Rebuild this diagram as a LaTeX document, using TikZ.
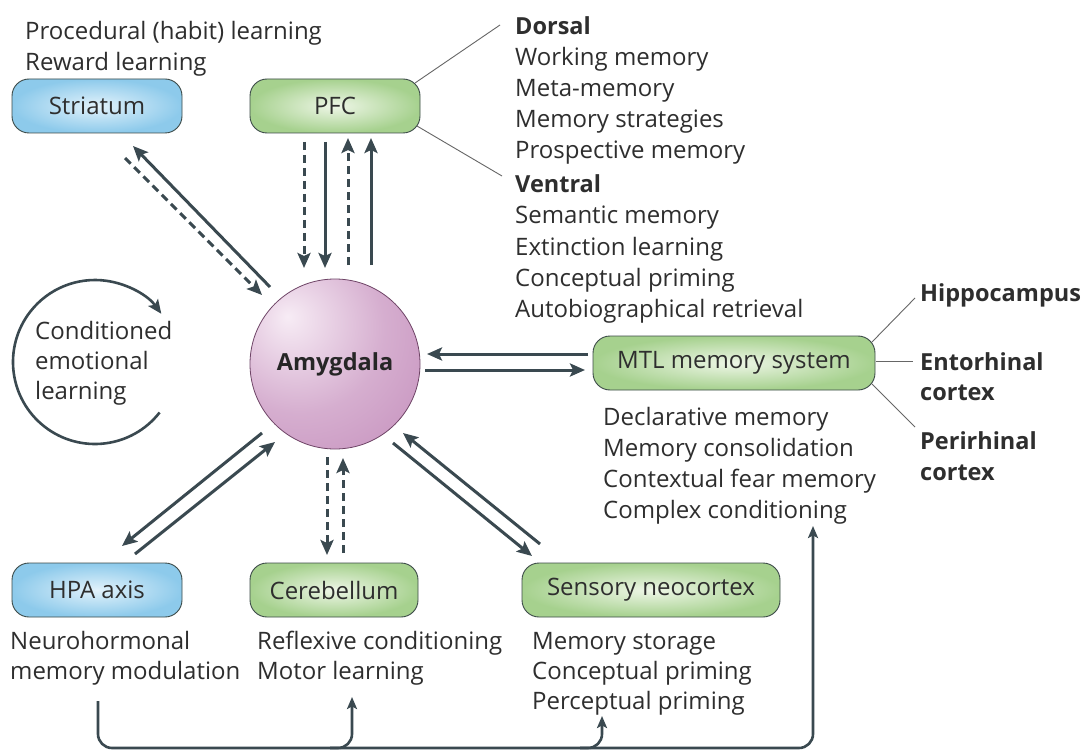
\documentclass[tikz,border=0pt]{standalone}
\usepackage{fontspec}
\setmainfont{Open Sans}
\usetikzlibrary{arrows.meta}
\definecolor{arr}{HTML}{3A4950}
\definecolor{txt}{HTML}{2E2E2E}
\definecolor{blueL}{HTML}{E2F2FB}
\definecolor{blueD}{HTML}{8DCAEB}
\definecolor{greenL}{HTML}{EEF6E7}
\definecolor{greenD}{HTML}{A6D18E}
\definecolor{amyL}{HTML}{F7ECF5}
\definecolor{amyD}{HTML}{BA7BB0}
\definecolor{edge}{HTML}{3C4A48}
\definecolor{amyEdge}{HTML}{6E4466}
\pgfdeclareradialshading{amygshade}{\pgfpoint{-14bp}{14bp}}{color(0bp)=(amyL); color(25bp)=(amyL!45!amyD); color(62bp)=(amyD); color(100bp)=(amyD)}
\begin{document}
\begin{tikzpicture}[x=1pt,y=1pt,
  font=\fontsize{24}{31}\selectfont, text=txt,
  box/.style={rectangle, rounded corners=17pt, draw=edge, line width=0.9pt,
    minimum height=54pt, inner sep=0pt},
  bluebox/.style={box, inner color=blueL, outer color=blueD},
  greenbox/.style={box, inner color=greenL, outer color=greenD},
  lbl/.style={anchor=base west, inner sep=0pt},
  blbl/.style={lbl, font=\fontsize{23.5}{31}\selectfont\bfseries},
  link/.style={draw=arr, line width=3pt, -{Stealth[length=15pt,width=13pt,inset=3pt]}},
  dlink/.style={link, dash pattern=on 8pt off 5pt},
  leader/.style={draw=black!60, line width=0.9pt},
  bus/.style={draw=arr, line width=2.6pt, rounded corners=14pt, -{Stealth[length=12pt,width=10pt,inset=2.5pt]}},
]
\fill[white] (0,0) rectangle (1083,-751);
\useasboundingbox (0,0) rectangle (1083,-751);

% ---- boxes ----
\node[bluebox, minimum width=170pt] (str) at (97,-106) {Striatum};
\node[greenbox, minimum width=170pt] (pfc) at (335,-106) {PFC};
\node[bluebox, minimum width=170pt] (hpa) at (97,-590) {HPA axis};
\node[greenbox, minimum width=168pt] (cer) at (334,-590) {Cerebellum};
\node[greenbox, minimum width=258pt] (sen) at (651,-590) {Sensory neocortex};
\node[greenbox, minimum width=282pt] (mtl) at (734,-363) {MTL memory system};
\node[circle, minimum size=170pt, inner sep=0pt, draw=amyEdge, line width=0.8pt,
      shade, shading=amygshade, font=\fontsize{23.5}{31}\selectfont\bfseries,
      text=black!85] (amy) at (335,-364) {Amygdala};

% ---- text lists ----
\foreach \s/\y [count=\i] in {Procedural (habit) learning/40, Reward learning/71}
  \node[lbl] (strt\i) at (25,-\y) {\s};

\node[blbl] (dors) at (515,-35) {Dorsal};
\foreach \s [count=\i] in {Working memory, Meta-memory, Memory strategies, Prospective memory}
  \node[lbl] (dors\i) at (515,-35-31*\i) {\s};
\node[blbl] (vent) at (515,-193) {Ventral};
\foreach \s [count=\i] in {Semantic memory, Extinction learning, Conceptual priming, Autobiographical retrieval}
  \node[lbl] (vent\i) at (515,-193-31*\i) {\s};

\foreach \s [count=\i] in {Conditioned, emotional, learning}
  \node[lbl] (cel\i) at (35,-309-30*\i) {\s};

\foreach \s [count=\i] in {Declarative memory, Memory consolidation, Contextual fear memory, Complex conditioning}
  \node[lbl] (mtlt\i) at (603,-394-31*\i) {\s};

\node[blbl] (hip) at (920,-301) {Hippocampus};
\node[blbl] (ent1) at (920,-370) {Entorhinal};
\node[blbl] (ent2) at (920,-400) {cortex};
\node[blbl] (per1) at (920,-449) {Perirhinal};
\node[blbl] (per2) at (920,-480) {cortex};

\foreach \s [count=\i] in {Neurohormonal, memory modulation}
  \node[lbl] (hpat\i) at (10,-619-30*\i) {\s};
\foreach \s [count=\i] in {Reflexive conditioning, Motor learning}
  \node[lbl] (cert\i) at (257,-619-30*\i) {\s};
\foreach \s [count=\i] in {Memory storage, Conceptual priming, Perceptual priming}
  \node[lbl] (sent\i) at (532,-619-30*\i) {\s};

% ---- leader lines ----
\coordinate (pd) at (415,-83);  \coordinate (pdE) at (500,-25);
\coordinate (pv) at (417,-126); \coordinate (pvE) at (502,-176);
\draw[leader] (pd) -- (pdE);
\draw[leader] (pv) -- (pvE);
\coordinate (mh) at (872,-342); \coordinate (mhE) at (915,-298);
\coordinate (me) at (876,-361); \coordinate (meE) at (913,-361);
\coordinate (mp) at (872,-384); \coordinate (mpE) at (915,-427);
\draw[leader] (mh) -- (mhE);
\draw[leader] (me) -- (meE);
\draw[leader] (mp) -- (mpE);

% ---- PFC <-> amygdala ----
\coordinate (p1a) at (304,-142); \coordinate (p1b) at (304,-268);
\coordinate (p2a) at (325,-142); \coordinate (p2b) at (325,-268);
\coordinate (p3a) at (348,-265); \coordinate (p3b) at (348,-138);
\coordinate (p4a) at (371,-265); \coordinate (p4b) at (371,-138);
\draw[dlink] (p1a) -- (p1b);
\draw[link]  (p2a) -- (p2b);
\draw[dlink] (p3a) -- (p3b);
\draw[link]  (p4a) -- (p4b);

% ---- Striatum <-> amygdala ----
\coordinate (s1a) at (270,-287); \coordinate (s1b) at (133,-146);
\coordinate (s2a) at (125,-158); \coordinate (s2b) at (262,-295);
\draw[link]  (s1a) -- (s1b);
\draw[dlink] (s2a) -- (s2b);

% ---- HPA <-> amygdala ----
\coordinate (h1a) at (262,-433); \coordinate (h1b) at (122,-546);
\coordinate (h2a) at (135,-554); \coordinate (h2b) at (275,-442);
\draw[link] (h1a) -- (h1b);
\draw[link] (h2a) -- (h2b);

% ---- Cerebellum <-> amygdala ----
\coordinate (c1a) at (327,-457); \coordinate (c1b) at (327,-555);
\coordinate (c2a) at (343,-553); \coordinate (c2b) at (343,-458);
\draw[dlink] (c1a) -- (c1b);
\draw[dlink] (c2a) -- (c2b);

% ---- Sensory <-> amygdala ----
\coordinate (n1a) at (540,-544); \coordinate (n1b) at (403,-433);
\coordinate (n2a) at (393,-443); \coordinate (n2b) at (532,-556);
\draw[link] (n1a) -- (n1b);
\draw[link] (n2a) -- (n2b);

% ---- MTL <-> amygdala ----
\coordinate (m1a) at (588,-354); \coordinate (m1b) at (427,-354);
\coordinate (m2a) at (425,-370); \coordinate (m2b) at (585,-370);
\draw[link] (m1a) -- (m1b);
\draw[link] (m2a) -- (m2b);

% ---- conditioned emotional learning cycle ----
\coordinate (cyc) at (95,-362);
\draw[draw=arr, line width=2.6pt, -{Stealth[length=14pt,width=12pt,inset=3pt]}]
  ([shift={(-38:82)}]cyc) arc[start angle=-38, end angle=-324, radius=82];

% ---- bottom bus ----
\coordinate (b0) at (98,-701);
\coordinate (bR) at (813,-748);
\coordinate (bT) at (813,-526);
\draw[bus] (b0) |- (bR) -- (bT);
\coordinate (bc0) at (330,-748); \coordinate (bc1) at (352,-697);
\draw[bus] (bc0) -| (bc1);
\coordinate (bs0) at (580,-748); \coordinate (bs1) at (602,-716);
\draw[bus] (bs0) -| (bs1);
\end{tikzpicture}
\end{document}
